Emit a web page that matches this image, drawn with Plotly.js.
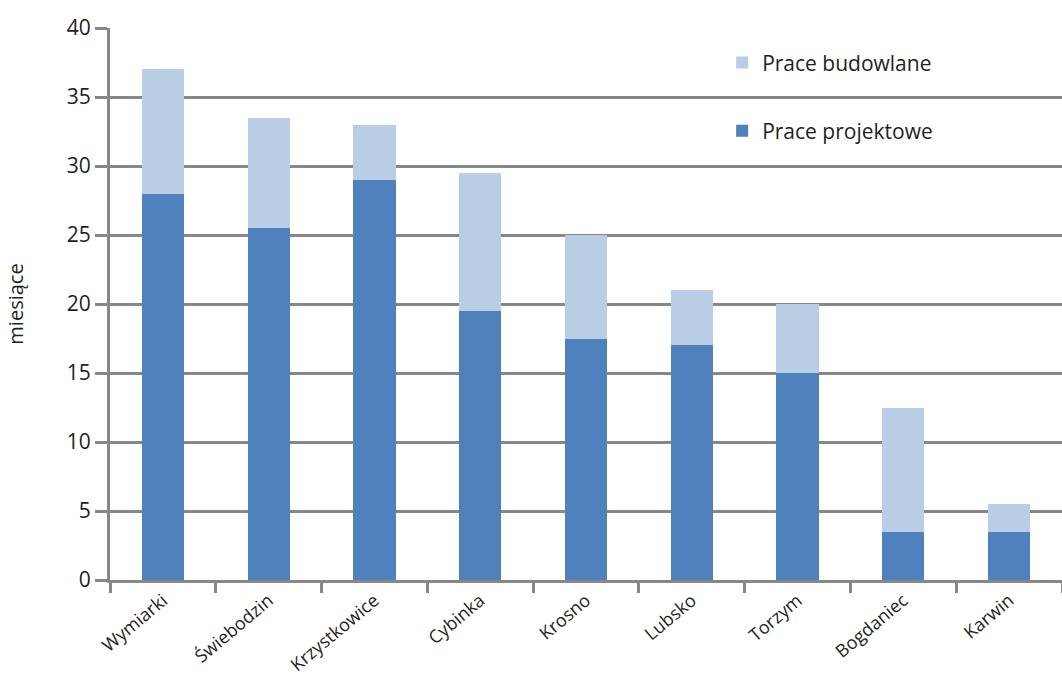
<!DOCTYPE html>
<html>
<head>
<meta charset="utf-8">
<script src="https://cdn.plot.ly/plotly-3.0.1.min.js"></script>
<style>html,body{margin:0;padding:0;background:#fff;}#chart{width:1062px;height:677px;}</style>
</head>
<body>
<div id="chart"></div>
<script>
const categories = ["Wymiarki", "Świebodzin", "Krzystkowice", "Cybinka", "Krosno", "Lubsko", "Torzym", "Bogdaniec", "Karwin"];
const praceProjektowe = [28, 25.5, 29, 19.5, 17.5, 17, 15, 3.5, 3.5];
const praceBudowlane = [9, 8, 4, 10, 7.5, 4, 5, 9, 2];
const yTickVals = [0, 5, 10, 15, 20, 25, 30, 35, 40];

const fontFam = "'Open Sans', 'Noto Sans', sans-serif";
const gray = "#878787";

const traces = [
  {
    type: "bar", name: "Prace projektowe", x: categories, y: praceProjektowe,
    marker: {color: "#4F81BD"}, legendgroup: "proj", legendrank: 2
  },
  {
    type: "bar", name: "Prace budowlane", x: categories, y: praceBudowlane,
    marker: {color: "#B9CDE5"}, legendgroup: "bud", legendrank: 1
  }
];

const layout = {
  width: 1062, height: 677,
  margin: {l: 110, r: 0, t: 28, b: 97},
  barmode: "stack",
  bargap: 0.6,
  paper_bgcolor: "#fff", plot_bgcolor: "#fff",
  font: {family: fontFam, size: 21, color: "#231F20"},
  showlegend: true,
  legend: {
    x: 0.643, y: 0.974, xanchor: "left", yanchor: "top",
    traceorder: "grouped", tracegroupgap: 38,
    font: {size: 21, color: "#231F20"}, bgcolor: "rgba(0,0,0,0)"
  },
  xaxis: {
    type: "category", tickson: "boundaries", ticks: "outside", ticklen: 10, tickwidth: 3, tickcolor: gray,
    showline: true, linecolor: gray, linewidth: 3, tickangle: -40,
    tickfont: {size: 18}, showgrid: false
  },
  yaxis: {
    range: [0, 40], tickvals: yTickVals, ticks: "outside", ticklen: 12, tickwidth: 3, tickcolor: gray,
    showline: true, linecolor: gray, linewidth: 3, showgrid: true, gridcolor: gray, gridwidth: 3,
    zeroline: false, tickfont: {size: 21},
    title: {text: "miesiące", font: {size: 20}, standoff: 38}
  }
};

Plotly.newPlot("chart", traces, layout, {displayModeBar: false, staticPlot: true});
</script>
</body>
</html>
